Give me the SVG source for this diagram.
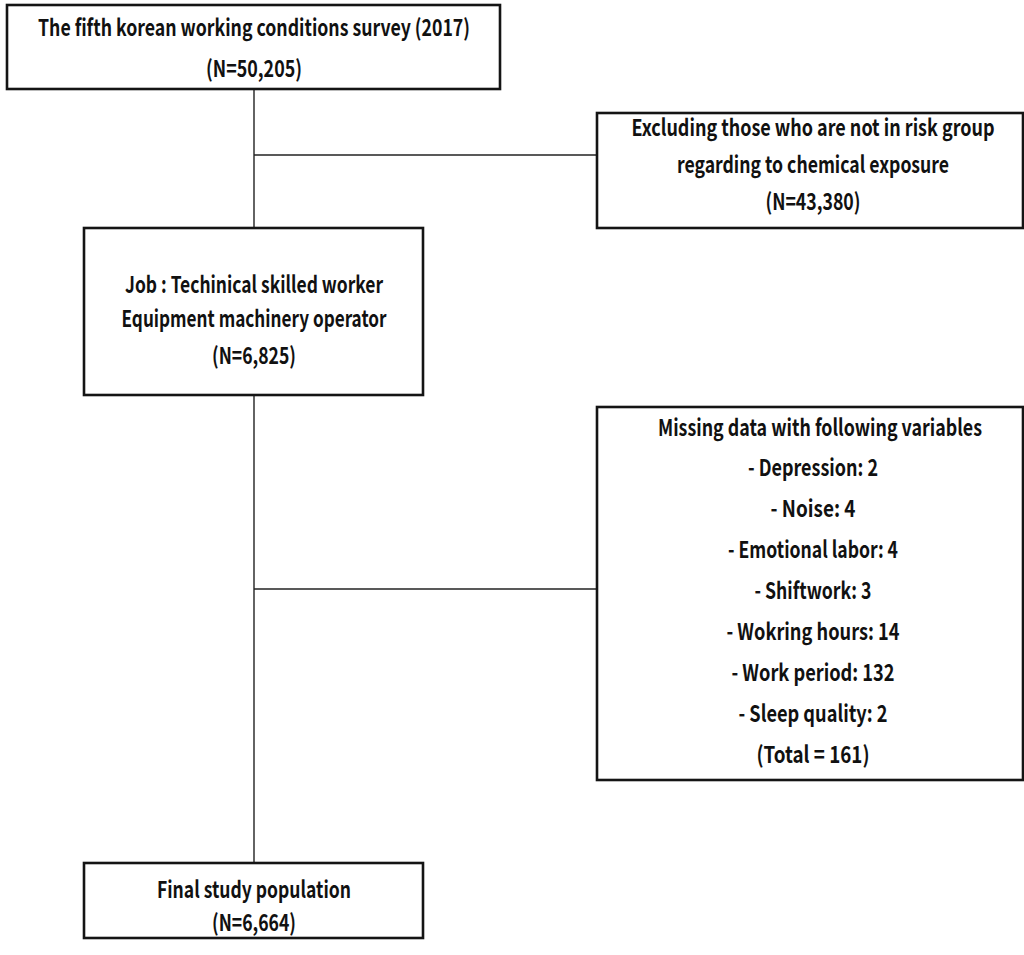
<svg xmlns="http://www.w3.org/2000/svg" width="1024" height="955" viewBox="0 0 1024 955">
<style>
.box{fill:#fff;stroke:#141414;stroke-width:2.6}
.ln{stroke:#222;stroke-width:1.4;fill:none}
text{font-family:"Noto Sans CJK KR","Liberation Sans",sans-serif;font-size:23px;font-weight:700;fill:#111;text-anchor:middle}
</style>
<rect width="1024" height="955" fill="#fff"/>
<g id="connectors">
<line class="ln" x1="254" y1="89" x2="254" y2="228"/>
<line class="ln" x1="254" y1="155" x2="597" y2="155"/>
<line class="ln" x1="254" y1="395" x2="254" y2="863"/>
<line class="ln" x1="254" y1="589" x2="597" y2="589"/>
</g>
<g id="survey">
<rect class="box" x="7" y="5" width="493" height="84"/>
<text x="254" y="36" textLength="432" lengthAdjust="spacingAndGlyphs">The fifth korean working conditions survey (2017)</text>
<text x="254" y="77" textLength="96" lengthAdjust="spacingAndGlyphs">(N=50,205)</text>
</g>
<g id="excluded">
<rect class="box" x="597" y="113" width="426" height="115"/>
<text x="813" y="136" textLength="363" lengthAdjust="spacingAndGlyphs">Excluding those who are not in risk group</text>
<text x="813" y="173" textLength="272" lengthAdjust="spacingAndGlyphs">regarding to chemical exposure</text>
<text x="813" y="210" textLength="95" lengthAdjust="spacingAndGlyphs">(N=43,380)</text>
</g>
<g id="job">
<rect class="box" x="84" y="228" width="339" height="167"/>
<text x="254" y="293" textLength="258" lengthAdjust="spacingAndGlyphs">Job : Techinical skilled worker</text>
<text x="254" y="327" textLength="265" lengthAdjust="spacingAndGlyphs">Equipment machinery operator</text>
<text x="254" y="364" textLength="84" lengthAdjust="spacingAndGlyphs">(N=6,825)</text>
</g>
<g id="missing">
<rect class="box" x="597" y="407" width="426" height="373"/>
<text x="820" y="436" textLength="324" lengthAdjust="spacingAndGlyphs">Missing data with following variables</text>
<text x="813" y="476" textLength="130" lengthAdjust="spacingAndGlyphs">- Depression: 2</text>
<text x="813" y="517" textLength="85" lengthAdjust="spacingAndGlyphs">- Noise: 4</text>
<text x="813" y="558" textLength="170" lengthAdjust="spacingAndGlyphs">- Emotional labor: 4</text>
<text x="813" y="599" textLength="117" lengthAdjust="spacingAndGlyphs">- Shiftwork: 3</text>
<text x="813" y="640" textLength="173" lengthAdjust="spacingAndGlyphs">- Wokring hours: 14</text>
<text x="813" y="681" textLength="163" lengthAdjust="spacingAndGlyphs">- Work period: 132</text>
<text x="813" y="722" textLength="149" lengthAdjust="spacingAndGlyphs">- Sleep quality: 2</text>
<text x="813" y="763" textLength="113" lengthAdjust="spacingAndGlyphs">(Total = 161)</text>
</g>
<g id="final">
<rect class="box" x="84" y="863" width="339" height="75"/>
<text x="254" y="898" textLength="194" lengthAdjust="spacingAndGlyphs">Final study population</text>
<text x="254" y="931" textLength="84" lengthAdjust="spacingAndGlyphs">(N=6,664)</text>
</g>
</svg>
